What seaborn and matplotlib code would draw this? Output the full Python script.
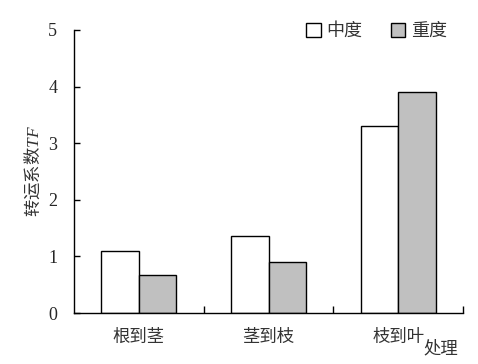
import matplotlib
matplotlib.use("Agg")
import matplotlib.pyplot as plt
import seaborn as sns
import pandas as pd
from matplotlib.ticker import FixedLocator
from matplotlib.patches import Patch

categories = ["根到茎", "茎到枝", "枝到叶"]
series_names = ["中度", "重度"]
moderate = [1.1, 1.36, 3.3]
severe = [0.67, 0.9, 3.9]
y_ticks = [0, 1, 2, 3, 4, 5]

df = pd.DataFrame({
    "cat": categories * 2,
    "series": [series_names[0]] * 3 + [series_names[1]] * 3,
    "val": moderate + severe,
})

sns.set_theme(style="ticks")
plt.rcParams["font.family"] = ["Noto Sans CJK SC", "DejaVu Sans"]
plt.rcParams["mathtext.fontset"] = "custom"
plt.rcParams["mathtext.it"] = "Liberation Serif:italic"
plt.rcParams["mathtext.rm"] = "Liberation Serif"

fig = plt.figure(figsize=(4.78, 3.64), dpi=100)
ax = fig.add_axes([74/478, 1-313/364, (463-74)/478, (313-30)/364])

colors = {"中度": "white", "重度": "#c0c0c0"}
sns.barplot(data=df, x="cat", y="val", hue="series", order=categories,
            hue_order=series_names, palette=colors, edgecolor="black",
            linewidth=1.0, width=0.58, ax=ax, legend=False, saturation=1)

ax.set_xlim(-0.5, 2.5)
ax.set_ylim(0, 5)
ax.set_yticks(y_ticks)
ax.set_yticklabels([str(t) for t in y_ticks], fontfamily="Liberation Serif", fontsize=13)
ax.tick_params(axis="y", direction="in", length=4, width=1, color="black", pad=12)
ax.set_xticks(range(3))
ax.set_xticklabels(categories, fontsize=12.5, color="#333333")
ax.tick_params(axis="x", which="major", length=0, pad=11)
ax.xaxis.set_minor_locator(FixedLocator([0.5, 1.5, 2.5]))
ax.tick_params(axis="x", which="minor", direction="in", length=5, width=1, color="black")
for s in ["top", "right"]:
    ax.spines[s].set_visible(False)
for s in ["left", "bottom"]:
    ax.spines[s].set_color("black")
    ax.spines[s].set_linewidth(1)

ax.set_xlabel("")
ax.set_ylabel("转运系数$\\it{TF}$", fontsize=12.5, color="#333333", labelpad=4)

fig.text(441/478, 1-348/364, "处理", fontsize=12.5, color="#333333", ha="center", va="center")

handles = [Patch(facecolor=colors[n], edgecolor="black", linewidth=1, label=n) for n in series_names]
leg = ax.legend(handles=handles, ncol=2, frameon=False, loc="upper right",
                bbox_to_anchor=(1.0, 1.085), fontsize=13, handlelength=0.8,
                handleheight=0.8, handletextpad=0.3, columnspacing=1.6)
for t in leg.get_texts():
    t.set_color("#333333")

fig.savefig("out.png", dpi=100, facecolor="white")
